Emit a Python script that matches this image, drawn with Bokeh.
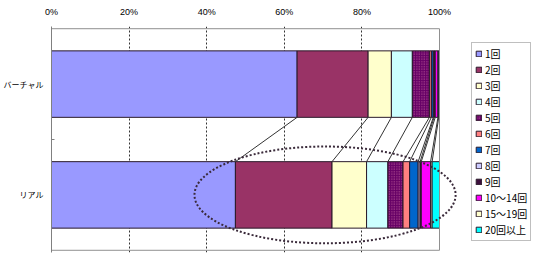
import numpy as np
from bokeh.plotting import figure
from bokeh.models import ColumnDataSource, Range1d, FixedTicker, Legend
from bokeh.embed import file_html
from bokeh.resources import INLINE

# ---- data ----
categories = ["リアル", "バーチャル"]
series = ["1回", "2回", "3回", "4回", "5回", "6回", "7回", "8回", "9回",
          "10～14回", "15～19回", "20回以上"]
virtual = [63.3, 18.3, 6.0, 5.4, 4.4, 0.5, 0.5, 0.2, 0.3, 0.7, 0.2, 0.2]
real = [47.4, 24.9, 8.9, 5.5, 3.9, 1.7, 2.2, 0.5, 0.3, 2.4, 0.4, 1.9]
colors = ["#9999FF", "#993366", "#FFFFCC", "#CCFFFF", "#660066", "#FF8080",
          "#0066CC", "#CCCCFF", "#3C0F3C", "#FF00FF", "#FFFFCC", "#00FFFF"]
x_ticks = [0, 20, 40, 60, 80, 100]
x_tick_labels = ["0%", "20%", "40%", "60%", "80%", "100%"]

# ---- figure ----
FONT_JP = "Noto Sans CJK JP"
p = figure(width=539, height=257, output_backend="svg", toolbar_location=None,
           x_axis_location="above",
           x_range=Range1d(0, 125.77), y_range=Range1d(-0.52, 1.52),
           min_border_left=51, min_border_top=26, min_border_bottom=5,
           min_border_right=0)
p.outline_line_color = None
p.background_fill_color = "white"
p.border_fill_color = "white"

ypos = [0, 1]
data = {"y": ypos}
for i, s in enumerate(series):
    data[s] = [real[i], virtual[i]]
source = ColumnDataSource(data)

rends = p.hbar_stack(series, y="y", height=0.6, color=colors, source=source,
                     line_color="#2a1a2a", line_width=1)
# pattern for 5回
g = rends[4].glyph
g.hatch_pattern = "dot"
g.hatch_color = "#c0609a"
g.hatch_scale = 2.5
g.hatch_weight = 1

# series lines between bars
cv = np.cumsum(virtual)[:-1]
cr = np.cumsum(real)[:-1]
p.segment(x0=cv, y0=[0.7] * len(cv), x1=cr, y1=[0.3] * len(cr),
          line_color="#333333", line_width=1)

# plot-area border (top, right, bottom)
p.line(x=[0, 100, 100, 0], y=[1.5, 1.5, -0.5, -0.5], line_color="#909090", line_width=1)

# dotted ellipse around real bar
p.ellipse(x=70.5, y=0, width=67.3, height=0.874, fill_color=None,
          line_color="#3a2a3a", line_width=2, line_dash="2 2")

# grid
p.ygrid.grid_line_color = None
p.xgrid.ticker = FixedTicker(ticks=[20, 40, 60, 80])
p.xgrid.grid_line_color = "#333333"
p.xgrid.grid_line_dash = "2 2"
p.xgrid.grid_line_width = 1

# x axis (top)
xa = p.xaxis[0]
xa.ticker = FixedTicker(ticks=x_ticks)
xa.major_label_overrides = {t: l for t, l in zip(x_ticks, x_tick_labels)}
xa.axis_line_color = None
xa.major_tick_line_color = None
xa.minor_tick_line_color = None
xa.major_tick_out = 0
xa.minor_tick_out = 0
xa.axis_label_standoff = 0
xa.major_label_standoff = 10
xa.major_label_text_font = "Liberation Sans"
xa.major_label_text_font_size = "9px"
xa.major_label_text_color = "black"

# y axis (left)
ya = p.yaxis[0]
ya.ticker = FixedTicker(ticks=ypos, minor_ticks=[0.5])
ya.major_label_overrides = {0: categories[0], 1: categories[1]}
ya.axis_line_color = "#808080"
ya.major_tick_line_color = None
ya.major_tick_out = 0
ya.minor_tick_in = 3
ya.minor_tick_out = 0
ya.minor_tick_line_color = "#808080"
ya.axis_label_standoff = 0
ya.major_label_standoff = 8
ya.major_label_text_font = FONT_JP
ya.major_label_text_font_size = "8px"
ya.major_label_text_color = "black"

# legend (inside the wide frame, right of the plot area)
items = [(s, [r]) for s, r in zip(series, rends)]
legend = Legend(items=items, location=(420, 11))
legend.label_text_font = FONT_JP
legend.label_text_font_size = "10px"
legend.label_text_color = "black"
legend.glyph_width = 7
legend.glyph_height = 7
legend.label_height = 12
legend.label_standoff = 3
legend.spacing = 1
legend.padding = 3
legend.margin = 0
legend.border_line_color = "#808080"
legend.border_line_width = 1
legend.background_fill_color = "white"
legend.background_fill_alpha = 1
p.add_layout(legend)

open("out.html", "w").write(file_html(p, INLINE))
